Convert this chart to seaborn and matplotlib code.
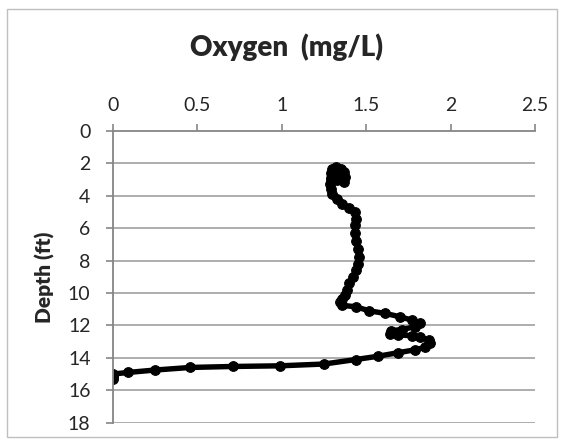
import numpy as np
import pandas as pd
import seaborn as sns
import matplotlib.pyplot as plt
from matplotlib.patches import Rectangle

# profile values, surface to bottom
depth = [3.15, 2.85, 2.55, 2.35, 2.25, 2.35, 2.60, 2.90, 3.05, 2.75, 2.50, 2.70,
         3.00, 3.30, 3.60, 3.90, 4.20, 4.50, 4.75, 5.00, 5.40, 5.80, 6.30, 6.80,
         7.30, 7.80, 8.20, 8.60, 9.00, 9.40, 9.80, 10.10, 10.35, 10.55, 10.75,
         10.85, 11.10, 11.25, 11.46, 11.67, 11.87, 12.08, 12.25, 12.32, 12.50,
         12.60, 12.62, 12.72, 12.90, 13.10, 13.35, 13.50, 13.68, 13.90, 14.10,
         14.38, 14.49, 14.53, 14.59, 14.75, 14.90, 15.00, 15.10, 15.20, 15.30]
oxygen = [1.37, 1.375, 1.37, 1.35, 1.32, 1.30, 1.29, 1.295, 1.33, 1.345, 1.33, 1.30,
          1.29, 1.285, 1.29, 1.30, 1.33, 1.36, 1.40, 1.435, 1.44, 1.435, 1.435, 1.44,
          1.455, 1.46, 1.455, 1.44, 1.42, 1.40, 1.385, 1.375, 1.36, 1.345, 1.355,
          1.44, 1.52, 1.61, 1.70, 1.77, 1.82, 1.79, 1.71, 1.65, 1.64,
          1.69, 1.77, 1.82, 1.87, 1.88, 1.85, 1.79, 1.69, 1.57, 1.44,
          1.25, 0.99, 0.71, 0.46, 0.25, 0.09, 0.0, 0.0, 0.0, 0.0]
x_ticks = [0, 0.5, 1, 1.5, 2, 2.5]
x_labels = ["0", "0.5", "1", "1.5", "2", "2.5"]
y_ticks = list(range(0, 19, 2))

df = pd.DataFrame({"Depth": depth, "Oxygen": oxygen})

sns.set_style("white")
plt.rcParams["font.family"] = ["Lato", "DejaVu Sans"]

fig = plt.figure(figsize=(5.67, 4.45), dpi=100)
ax = fig.add_axes([0.1988, 0.0501, 0.7448, 0.6555])

sns.lineplot(data=df, x="Oxygen", y="Depth", sort=False, estimator=None,
             color="black", linewidth=3.9, marker="o", markersize=7,
             markeredgecolor="black", ax=ax)

ax.set_xlim(0, 2.5)
ax.set_ylim(18, 0)
ax.set_xticks(x_ticks)
ax.set_xticklabels(x_labels)
ax.set_yticks(y_ticks)
ax.xaxis.tick_top()
ax.xaxis.set_label_position("top")
ax.set_xlabel("")
ax.set_ylabel("Depth (ft)", fontsize=15, fontweight="heavy", labelpad=9)

for y in y_ticks[1:]:
    ax.axhline(y, color="#a0a0a0", linewidth=1.2, zorder=0)

for side in ["right", "bottom"]:
    ax.spines[side].set_visible(False)
for side in ["top", "left"]:
    ax.spines[side].set_color("#868686")
    ax.spines[side].set_linewidth(1.3)

ax.tick_params(axis="both", direction="out", length=5, width=1.2,
               color="#868686", labelsize=14, pad=7)
ax.tick_params(axis="y", pad=11)
ax.tick_params(axis="x", top=True, bottom=False)
ax.tick_params(axis="y", left=True)

fig.suptitle("Oxygen  (mg/L)", x=0.505, y=0.925, fontsize=20, fontweight="heavy")

# chart area border
fig.patches.append(Rectangle((0.012, 0.018), 0.97, 0.962, transform=fig.transFigure,
                             fill=False, edgecolor="#bfbfbf", linewidth=1))

fig.savefig("out.png", dpi=100)
